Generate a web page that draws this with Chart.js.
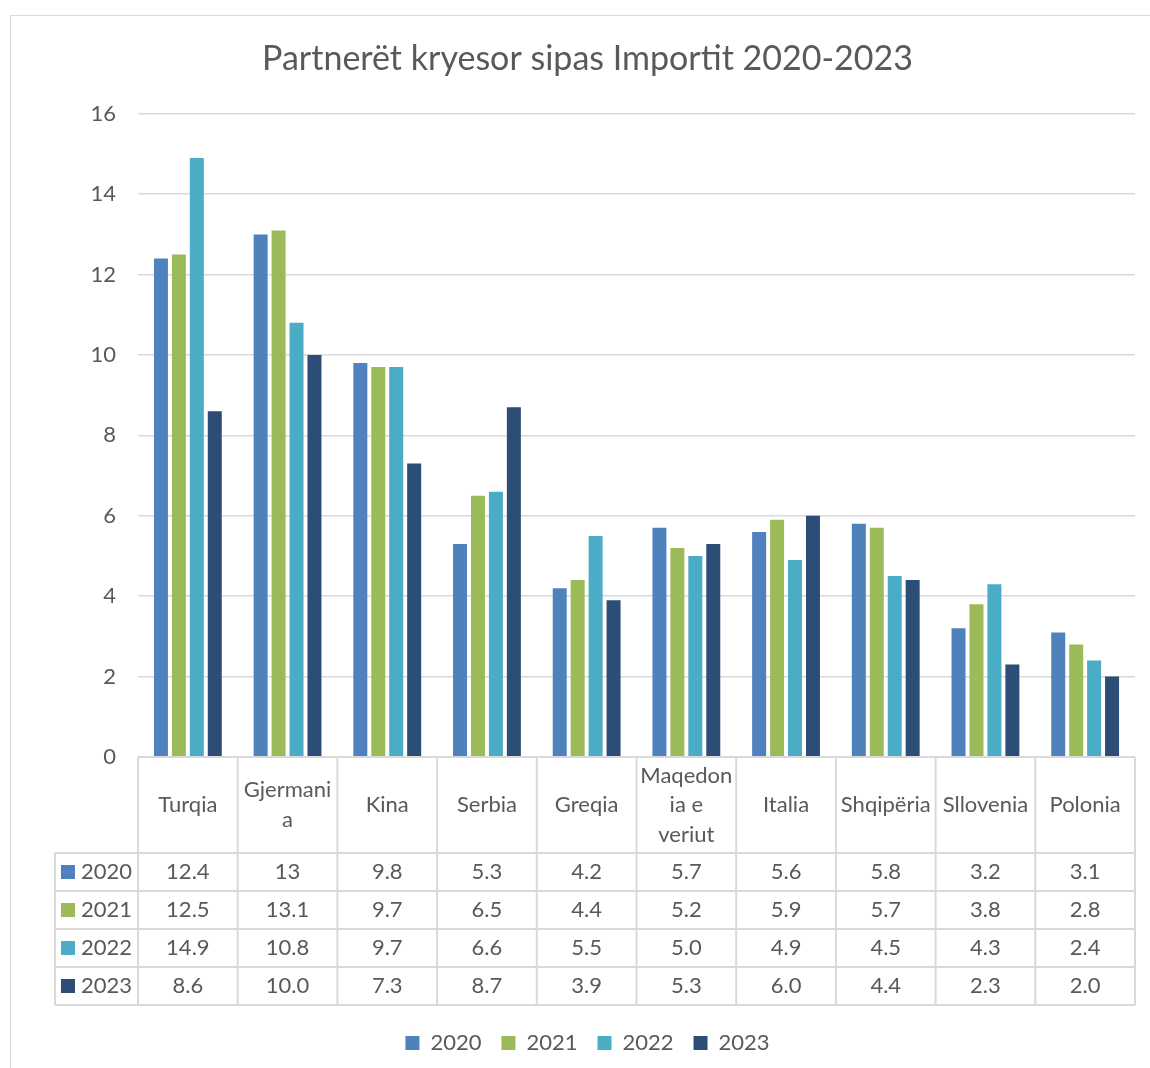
<!DOCTYPE html>
<html>
<head>
<meta charset="utf-8">
<script src="https://cdn.jsdelivr.net/npm/chart.js@4.4.0/dist/chart.umd.min.js"></script>
<style>
  body { margin: 0; background: #fff; }
  #chart { display: block; }
</style>
</head>
<body>
<canvas id="chart" width="1150" height="1068"></canvas>
<script>
// categories as they are wrapped in the header row of the data table
const categories = ["Turqia", ["Gjermani", "a"], "Kina", "Serbia", "Greqia", ["Maqedon", "ia e", "veriut"], "Italia", "Shqipëria", "Sllovenia", "Polonia"];
const years = ["2020", "2021", "2022", "2023"];
const values2020 = [12.4, 13, 9.8, 5.3, 4.2, 5.7, 5.6, 5.8, 3.2, 3.1];
const values2021 = [12.5, 13.1, 9.7, 6.5, 4.4, 5.2, 5.9, 5.7, 3.8, 2.8];
const values2022 = [14.9, 10.8, 9.7, 6.6, 5.5, 5.0, 4.9, 4.5, 4.3, 2.4];
const values2023 = [8.6, 10.0, 7.3, 8.7, 3.9, 5.3, 6.0, 4.4, 2.3, 2.0];
const tableDecimals = [null, null, 1, 1]; // 2020/2021 rows shown as typed, others with one decimal
const yMin = 0, yMax = 16, yStep = 2;

const colors = ["#4f81bd", "#9bbb59", "#4bacc6", "#2c4d75"];
const textColor = "#595959";
const lineColor = "#d9d9d9";
const fontFamily = "Lato, 'Noto Sans', sans-serif";
const FONT_SIZE = 22;

const series = [values2020, values2021, values2022, values2023];

const HEAD_H = 96;
const ROW_H = 38;
const KEY_LEFT = 55;

// outer frame of the chart
const frame = {
  id: "frame",
  beforeDraw(chart) {
    const { ctx, width, height } = chart;
    ctx.save();
    ctx.fillStyle = "#fff";
    ctx.fillRect(0, 0, width, height);
    ctx.strokeStyle = lineColor;
    ctx.lineWidth = 1;
    ctx.strokeRect(10.5, 15.5, width + 20, height + 20);
    ctx.restore();
  }
};

// excel style data table under the bars
const dataTable = {
  id: "dataTable",
  afterDraw(chart) {
    const { ctx, chartArea } = chart;
    const x = chart.scales.x;
    const n = categories.length;
    const colW = x.width / n;
    const top = chartArea.bottom;
    const bottom = top + HEAD_H + ROW_H * series.length;

    ctx.save();
    ctx.strokeStyle = lineColor;
    ctx.lineWidth = 2;
    ctx.beginPath();
    ctx.moveTo(x.left, top);
    ctx.lineTo(x.right, top);
    for (let r = 0; r <= series.length; r++) {
      const yy = top + HEAD_H + r * ROW_H;
      ctx.moveTo(KEY_LEFT, yy);
      ctx.lineTo(x.right, yy);
    }
    ctx.moveTo(KEY_LEFT, top + HEAD_H);
    ctx.lineTo(KEY_LEFT, bottom);
    for (let i = 0; i <= n; i++) {
      const xx = i < n ? x.getPixelForValue(i) - colW / 2 : x.getPixelForValue(n - 1) + colW / 2;
      ctx.moveTo(xx, top);
      ctx.lineTo(xx, bottom);
    }
    ctx.stroke();

    ctx.fillStyle = textColor;
    ctx.font = FONT_SIZE + "px " + fontFamily;
    ctx.textAlign = "center";
    ctx.textBaseline = "middle";

    // header row
    categories.forEach((cat, i) => {
      const lines = Array.isArray(cat) ? cat : [cat];
      const cx = x.getPixelForValue(i);
      const lh = 29.5;
      const y0 = top + HEAD_H / 2 - (lines.length - 1) * lh / 2;
      lines.forEach((ln, k) => ctx.fillText(ln, cx, y0 + k * lh));
    });

    // value rows
    series.forEach((vals, r) => {
      const cy = top + HEAD_H + r * ROW_H + ROW_H / 2;
      vals.forEach((v, i) => {
        const txt = tableDecimals[r] == null ? String(v) : v.toFixed(tableDecimals[r]);
        ctx.fillText(txt, x.getPixelForValue(i), cy);
      });
      // legend key in first column
      const label = years[r];
      const tw = ctx.measureText(label).width;
      const kx = (KEY_LEFT + x.left) / 2 - (14 + 6 + tw) / 2;
      ctx.fillStyle = colors[r];
      ctx.fillRect(kx, cy - 7, 14, 14);
      ctx.fillStyle = textColor;
      ctx.textAlign = "left";
      ctx.fillText(label, kx + 20, cy);
      ctx.textAlign = "center";
    });
    ctx.restore();
  }
};

new Chart(document.getElementById("chart"), {
  type: "bar",
  data: {
    labels: categories,
    datasets: years.map((yr, i) => ({
      label: yr,
      data: series[i],
      backgroundColor: colors[i],
      borderWidth: 0,
      categoryPercentage: 0.72,
      barPercentage: 0.78
    }))
  },
  options: {
    responsive: false,
    animation: false,
    layout: { padding: { left: 40, right: 15, top: 0, bottom: 4 } },
    plugins: {
      title: {
        display: true,
        text: "Partnerët kryesor sipas Importit 2020-2023",
        color: textColor,
        font: { family: fontFamily, size: 34, weight: "normal" },
        padding: { top: 39, bottom: 34 }
      },
      legend: {
        position: "bottom",
        labels: {
          color: textColor,
          font: { family: fontFamily, size: FONT_SIZE },
          boxWidth: 14,
          boxHeight: 14,
          padding: 20
        }
      },
      tooltip: { enabled: true }
    },
    scales: {
      x: {
        grid: { display: false },
        border: { display: false },
        ticks: { display: false },
        afterFit(scale) { scale.height = HEAD_H + ROW_H * 4 + 7; }
      },
      y: {
        min: yMin,
        max: yMax,
        ticks: {
          stepSize: yStep,
          color: textColor,
          padding: 22,
          font: { family: fontFamily, size: FONT_SIZE }
        },
        grid: { color: lineColor, lineWidth: 1.5, drawTicks: false },
        border: { display: false },
        afterFit(scale) { scale.width = 98; }
      }
    }
  },
  plugins: [frame, dataTable]
});
</script>
</body>
</html>
